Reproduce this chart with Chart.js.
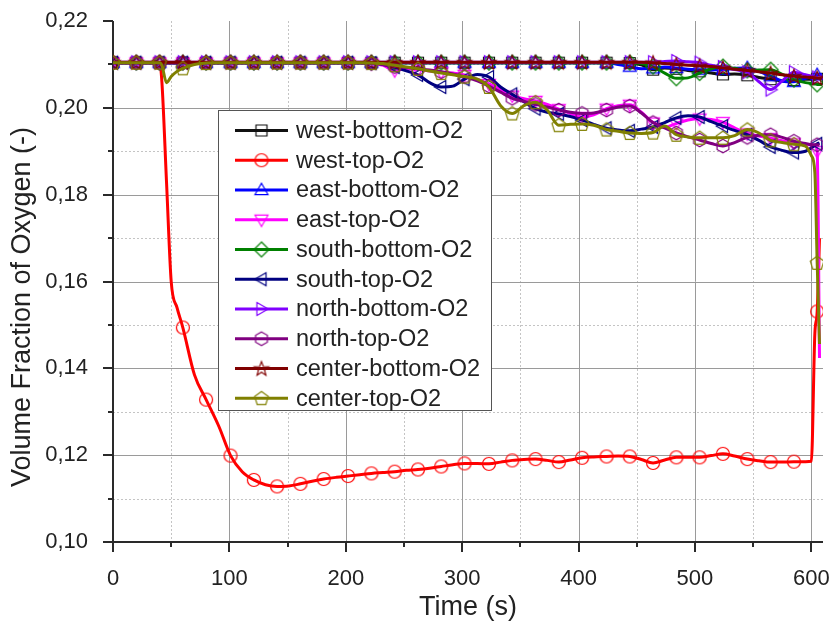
<!DOCTYPE html>
<html><head><meta charset="utf-8">
<script src="https://cdn.jsdelivr.net/npm/chart.js@4.4.1/dist/chart.umd.min.js"></script>
<style>html,body{margin:0;padding:0;background:#fff;}canvas{display:block;}</style>
</head><body>
<canvas id="c" width="833" height="632"></canvas>
<script>
// ---------------- data ----------------
const TIME = [0,10,20,30,40,42,46,50,55,60,70,80,91,101,111,121,131,141,151,161,171,181,192,202,212,222,232,242,252,262,272,282,292,302,313,323,333,343,353,363,373,383,393,403,413,424,434,444,454,464,474,484,494,504,514,524,534,545,555,565,575,585,595,600,603,605,607,609];
const MARKER_TIME = [0,20,40,60,80,101,121,141,161,181,202,222,242,262,282,302,323,343,363,383,403,424,444,464,484,504,524,545,565,585,605];
const X_TICKS = [0,100,200,300,400,500,600];
const Y_TICKS = [0.10,0.12,0.14,0.16,0.18,0.20,0.22];
const X_TITLE = 'Time (s)';
const Y_TITLE = 'Volume Fraction of Oxygen (-)';
const SERIES_NAMES = ['west-bottom-O2','west-top-O2','east-bottom-O2','east-top-O2','south-bottom-O2','south-top-O2','north-bottom-O2','north-top-O2','center-bottom-O2','center-top-O2'];

const WEST_BOTTOM = [0.2104,0.2104,0.2104,0.2104,0.2104,0.2104,0.2104,0.2104,0.2104,0.2104,0.2104,0.2104,0.2104,0.2104,0.2104,0.2104,0.2104,0.2104,0.2104,0.2104,0.2104,0.2104,0.2104,0.2104,0.2104,0.2104,0.2104,0.2104,0.2104,0.2104,0.2104,0.2104,0.2104,0.2104,0.2104,0.2104,0.2104,0.2104,0.2104,0.2104,0.2104,0.2104,0.2104,0.2104,0.2104,0.2104,0.2104,
  0.2103,0.2099,0.2088,0.2092,0.2090,0.2086,0.2084,0.2080,0.2077,0.2078,0.2075,0.2070,0.2066,0.2062,0.2064,0.2066,0.2066,0.2066,0.2067,0.2068,0.2068];
const WEST_TOP = [0.2104,0.2104,0.2104,0.2104,0.2104,0.2060,0.1828,0.1600,0.1540,0.1494,0.1385,0.1328,0.1266,0.1199,0.1162,0.1143,0.1132,0.1128,0.1129,0.1134,0.1140,0.1145,0.1149,0.1152,0.1155,
  0.1158,0.1160,0.1162,0.1165,0.1167,0.1170,0.1174,0.1178,0.1181,0.1181,0.1180,0.1184,0.1188,0.1190,0.1191,0.1188,0.1184,0.1189,0.1194,0.1196,0.1197,0.1198,0.1197,0.1190,0.1182,0.1189,0.1195,0.1195,0.1195,0.1199,0.1203,0.1198,0.1191,0.1187,0.1184,0.1184,0.1185,0.1185,0.1186,0.1480,0.1531,0.1700,null];
const EAST_BOTTOM = [0.2104,0.2104,0.2104,0.2104,0.2104,0.2104,0.2104,0.2104,0.2104,0.2104,0.2104,0.2104,0.2104,0.2104,0.2104,0.2104,0.2104,0.2104,0.2104,0.2104,0.2104,0.2104,0.2104,0.2104,0.2104,0.2104,0.2104,0.2104,0.2104,0.2104,0.2104,0.2104,0.2104,0.2104,0.2104,0.2104,0.2104,0.2104,0.2104,0.2104,0.2104,0.2104,0.2104,0.2104,0.2104,0.2104,
  0.2100,0.2095,0.2090,0.2091,0.2094,0.2092,0.2089,0.2088,0.2087,0.2088,0.2091,0.2092,0.2084,0.2073,0.2062,0.2060,0.2068,0.2072,0.2074,0.2076,0.2077,0.2077];
const EAST_TOP = [0.2104,0.2104,0.2104,0.2104,0.2104,0.2104,0.2104,0.2104,0.2104,0.2104,0.2104,0.2104,0.2104,0.2104,0.2104,0.2104,0.2104,0.2104,0.2104,0.2104,0.2104,0.2104,0.2104,0.2104,0.2104,
  0.2102,0.2098,0.2086,0.2090,0.2088,0.2085,0.2082,0.2080,0.2076,0.2066,0.2055,0.2042,0.2028,0.2021,0.2016,0.2008,0.1997,0.1987,0.1979,0.1984,0.1998,0.2005,0.2007,0.1990,0.1966,0.1955,0.1964,0.1972,0.1975,0.1973,0.1967,0.1954,0.1941,0.1935,0.1930,0.1924,0.1918,0.1915,0.1915,0.1914,0.1900,0.1424,null];
const SOUTH_BOTTOM = [0.2104,0.2104,0.2104,0.2104,0.2104,0.2104,0.2104,0.2104,0.2104,0.2104,0.2104,0.2104,0.2104,0.2104,0.2104,0.2104,0.2104,0.2104,0.2104,0.2104,0.2104,0.2104,0.2104,0.2104,0.2104,0.2104,0.2104,0.2104,0.2104,0.2104,0.2104,0.2104,0.2104,0.2104,0.2104,0.2104,0.2104,0.2104,0.2104,0.2104,0.2104,0.2104,0.2104,0.2104,0.2104,0.2104,0.2104,0.2104,
  0.2102,0.2095,0.2080,0.2068,0.2069,0.2080,0.2090,0.2095,0.2091,0.2086,0.2087,0.2088,0.2077,0.2065,0.2058,0.2056,0.2055,0.2054,0.2054,0.2054];
const SOUTH_TOP = [0.2104,0.2104,0.2104,0.2104,0.2104,0.2104,0.2104,0.2104,0.2104,0.2104,0.2104,0.2104,0.2104,0.2104,0.2104,0.2104,0.2104,0.2104,0.2104,0.2104,0.2104,0.2104,0.2104,0.2104,0.2104,
  0.2103,0.2100,0.2094,0.2085,0.2076,0.2058,0.2048,0.2050,0.2066,0.2077,0.2071,0.2048,0.2031,0.2014,0.1998,0.1990,0.1986,0.1980,0.1972,0.1962,0.1953,0.1949,0.1947,0.1951,0.1956,0.1966,0.1977,0.1982,0.1979,0.1968,0.1958,0.1948,0.1938,0.1925,0.1910,0.1902,0.1897,0.1900,0.1908,0.1913,0.1917,0.1919,null];
const NORTH_BOTTOM = [0.2105,0.2105,0.2105,0.2105,0.2105,0.2105,0.2105,0.2105,0.2105,0.2105,0.2105,0.2105,0.2105,0.2105,0.2105,0.2105,0.2105,0.2105,0.2105,0.2105,0.2105,0.2105,0.2105,0.2105,0.2105,0.2105,0.2105,0.2105,0.2105,0.2105,0.2105,0.2105,0.2105,0.2105,0.2105,0.2105,0.2105,0.2105,0.2105,0.2105,0.2105,0.2105,0.2105,0.2105,0.2105,0.2105,0.2105,0.2105,0.2105,0.2105,0.2107,0.2108,0.2106,0.2104,
  0.2098,0.2094,0.2088,0.2082,0.2060,0.2042,0.2062,0.2082,0.2076,0.2073,0.2071,0.2070,0.2069,0.2069];
const NORTH_TOP = [0.2104,0.2104,0.2104,0.2104,0.2104,0.2104,0.2104,0.2104,0.2104,0.2104,0.2104,0.2104,0.2104,0.2104,0.2104,0.2104,0.2104,0.2104,0.2104,0.2104,0.2104,0.2104,0.2104,0.2104,0.2104,
  0.2103,0.2100,0.2095,0.2093,0.2090,0.2087,0.2083,0.2078,0.2072,0.2062,0.2050,0.2036,0.2022,0.2015,0.2008,0.2002,0.1995,0.1990,0.1987,0.1988,0.1995,0.2002,0.2004,0.1988,0.1966,0.1954,0.1942,0.1933,0.1926,0.1918,0.1912,0.1920,0.1932,0.1937,0.1938,0.1932,0.1923,0.1918,0.1915,0.1915,0.1915,0.1914,null];
const CENTER_BOTTOM = [0.2105,0.2105,0.2105,0.2105,0.2105,0.2105,0.2105,0.2105,0.2105,0.2105,0.2105,0.2105,0.2105,0.2105,0.2105,0.2105,0.2105,0.2105,0.2105,0.2105,0.2105,0.2105,0.2105,0.2105,0.2105,0.2105,0.2105,0.2105,0.2105,0.2105,0.2105,0.2105,0.2105,0.2105,0.2105,0.2105,0.2105,0.2105,0.2105,0.2105,0.2105,0.2105,0.2105,0.2105,0.2105,0.2105,0.2105,0.2105,
  0.2105,0.2104,0.2102,0.2100,0.2098,0.2097,0.2095,0.2092,0.2089,0.2086,0.2083,0.2080,0.2076,0.2073,0.2071,0.2070,0.2069,0.2069,0.2068,0.2068];
const CENTER_TOP = [0.2104,0.2104,0.2104,0.2104,0.2104,0.2098,0.2058,0.2072,0.2084,0.2091,0.2100,0.2103,0.2104,0.2104,0.2104,0.2104,0.2104,0.2104,0.2104,0.2104,0.2104,0.2104,0.2104,0.2104,0.2104,
  0.2103,0.2102,0.2098,0.2094,0.2090,0.2085,0.2080,0.2076,0.2072,0.2066,0.2048,0.2005,0.1987,0.2005,0.2013,0.1995,0.1960,0.1962,0.1963,0.1960,0.1950,0.1946,0.1942,0.1941,0.1943,0.1958,0.1938,0.1933,0.1931,0.1931,0.1931,0.1936,0.1950,0.1942,0.1925,0.1920,0.1916,0.1912,0.1890,0.1851,0.1643,0.1456,null];

const SERIES_VALUES = [WEST_BOTTOM, WEST_TOP, EAST_BOTTOM, EAST_TOP, SOUTH_BOTTOM, SOUTH_TOP, NORTH_BOTTOM, NORTH_TOP, CENTER_BOTTOM, CENTER_TOP];

// ---------------- styles ----------------
const STYLE = [
  {color:'#111111', shape:'square'},
  {color:'#ff0000', shape:'circle'},
  {color:'#0000ff', shape:'triUp'},
  {color:'#ff00ff', shape:'triDown'},
  {color:'#008000', shape:'diamond'},
  {color:'#000080', shape:'triLeft'},
  {color:'#8000ff', shape:'triRight'},
  {color:'#800080', shape:'hexagon'},
  {color:'#800000', shape:'star'},
  {color:'#808000', shape:'pentagon'}
];
const FONT = "'Liberation Sans', Arial, Helvetica, sans-serif";

function polygon(ctx, cx, cy, r, n, startDeg){
  ctx.beginPath();
  for (let k=0;k<n;k++){
    const a = (startDeg + k*360/n) * Math.PI/180;
    const px = cx + r*Math.cos(a), py = cy + r*Math.sin(a);
    if (k===0) ctx.moveTo(px,py); else ctx.lineTo(px,py);
  }
  ctx.closePath();
}
function makeMarker(shape, color){
  const c = document.createElement('canvas');
  c.width = 20; c.height = 20;
  const g = c.getContext('2d');
  g.strokeStyle = color; g.lineWidth = 1.2; g.lineJoin='miter';
  const cx = 10, cy = 10;
  switch(shape){
    case 'square': g.beginPath(); g.rect(cx-5.5, cy-5.5, 11, 11); break;
    case 'circle': g.beginPath(); g.arc(cx, cy, 6.5, 0, Math.PI*2); break;
    case 'triUp': polygon(g, cx, cy+0.8, 7.5, 3, -90); break;
    case 'triDown': polygon(g, cx, cy-0.8, 7.5, 3, 90); break;
    case 'triLeft': polygon(g, cx+0.8, cy, 7.5, 3, 180); break;
    case 'triRight': polygon(g, cx-0.8, cy, 7.5, 3, 0); break;
    case 'diamond': polygon(g, cx, cy, 7.5, 4, -90); break;
    case 'hexagon': polygon(g, cx, cy, 6.8, 6, -90); break;
    case 'pentagon': polygon(g, cx, cy+0.5, 7.2, 5, -90); break;
    case 'star': {
      g.beginPath();
      for (let k=0;k<10;k++){
        const r = k%2===0 ? 7.5 : 3.2;
        const a = (-90 + k*36)*Math.PI/180;
        const px = cx + r*Math.cos(a), py = cy + 0.6 + r*Math.sin(a);
        if (k===0) g.moveTo(px,py); else g.lineTo(px,py);
      }
      g.closePath(); break;
    }
  }
  g.stroke();
  return c;
}
const MARKERS = STYLE.map(s => makeMarker(s.shape, s.color));

// ---------------- plugins ----------------
const framePlugin = {
  id: 'frame',
  beforeDatasetsDraw(chart){
    const {ctx, chartArea:a, scales:{x:xs, y:ys}} = chart;
    ctx.save();
    ctx.strokeStyle = '#c4c4c4'; ctx.lineWidth = 1; ctx.setLineDash([2,2]);
    for (let i=0;i<X_TICKS.length-1;i++){
      const px = Math.round(xs.getPixelForValue((X_TICKS[i]+X_TICKS[i+1])/2))+0.5;
      ctx.beginPath(); ctx.moveTo(px, a.top); ctx.lineTo(px, a.bottom); ctx.stroke();
    }
    for (let i=0;i<Y_TICKS.length-1;i++){
      const py = Math.round(ys.getPixelForValue((Y_TICKS[i]+Y_TICKS[i+1])/2))+0.5;
      ctx.beginPath(); ctx.moveTo(a.left, py); ctx.lineTo(a.right, py); ctx.stroke();
    }
    ctx.setLineDash([]); ctx.strokeStyle = '#9a9a9a';
    X_TICKS.slice(1).forEach(v => {
      const px = Math.round(xs.getPixelForValue(v))+0.5;
      ctx.beginPath(); ctx.moveTo(px, a.top); ctx.lineTo(px, a.bottom); ctx.stroke();
    });
    Y_TICKS.slice(1, -1).forEach(v => {
      const py = Math.round(ys.getPixelForValue(v))+0.5;
      ctx.beginPath(); ctx.moveTo(a.left, py); ctx.lineTo(a.right, py); ctx.stroke();
    });
    ctx.strokeStyle = '#2a2a2a'; ctx.lineWidth = 2;
    const x0 = Math.round(a.left), y0 = Math.round(a.bottom);
    ctx.beginPath(); ctx.moveTo(x0, Math.round(a.top)); ctx.lineTo(x0, y0+10); ctx.stroke();
    ctx.beginPath(); ctx.moveTo(x0-10, y0); ctx.lineTo(Math.round(a.right), y0); ctx.stroke();
    X_TICKS.forEach((v,i) => {
      const px = Math.round(xs.getPixelForValue(v));
      ctx.beginPath(); ctx.moveTo(px, y0); ctx.lineTo(px, y0+10); ctx.stroke();
      if (i < X_TICKS.length-1){
        const pm = Math.round(xs.getPixelForValue((v+X_TICKS[i+1])/2));
        ctx.beginPath(); ctx.moveTo(pm, y0); ctx.lineTo(pm, y0+5); ctx.stroke();
      }
    });
    Y_TICKS.forEach((v,i) => {
      const py = Math.round(ys.getPixelForValue(v));
      ctx.beginPath(); ctx.moveTo(x0-10, py); ctx.lineTo(x0, py); ctx.stroke();
      if (i < Y_TICKS.length-1){
        const pm = Math.round(ys.getPixelForValue((v+Y_TICKS[i+1])/2));
        ctx.beginPath(); ctx.moveTo(x0-5, pm); ctx.lineTo(x0, pm); ctx.stroke();
      }
    });
    ctx.restore();
  },
  afterDraw(chart){
    const {ctx, chartArea:a} = chart;
    ctx.save();
    ctx.fillStyle = '#222'; ctx.font = '27px ' + FONT;
    ctx.textAlign = 'center'; ctx.textBaseline = 'middle';
    ctx.fillText(X_TITLE, (a.left + a.right)/2, 608);
    ctx.translate(23, 307); ctx.rotate(-Math.PI/2);
    ctx.fillText(Y_TITLE, 0, 0);
    ctx.restore();

    ctx.save();
    const bx = 218.5, by = 110.5, bw = 273, bh = 300;
    ctx.fillStyle = '#ffffff'; ctx.fillRect(bx, by, bw, bh);
    ctx.strokeStyle = '#555'; ctx.lineWidth = 1; ctx.strokeRect(bx, by, bw, bh);
    ctx.font = '23.5px ' + FONT; ctx.textAlign = 'left'; ctx.textBaseline = 'middle';
    chart.data.datasets.forEach((ds, i) => {
      const cy = 130.5 + i*29.75;
      ctx.strokeStyle = ds.borderColor; ctx.lineWidth = 3;
      ctx.beginPath(); ctx.moveTo(235, cy); ctx.lineTo(288, cy); ctx.stroke();
      const m = MARKERS[i];
      ctx.drawImage(m, 261.5 - m.width/2, cy - m.height/2);
      ctx.fillStyle = '#222';
      ctx.fillText(ds.label, 296, cy + 1);
    });
    ctx.restore();
  }
};

// ---------------- chart ----------------
Chart.defaults.font.family = FONT;
new Chart(document.getElementById('c'), {
  type: 'line',
  data: {
    datasets: SERIES_NAMES.map((name, i) => ({
      label: name,
      data: TIME.map((t, k) => ({x: t, y: SERIES_VALUES[i][k]})),
      borderColor: STYLE[i].color,
      backgroundColor: 'transparent',
      borderWidth: 3,
      pointStyle: MARKERS[i],
      pointRadius: c => MARKER_TIME.includes(TIME[c.dataIndex]) ? 7 : 0,
      pointHoverRadius: 0,
      cubicInterpolationMode: 'monotone',
      fill: false,
      spanGaps: false,
      order: SERIES_NAMES.length - 1 - i
    }))
  },
  options: {
    responsive: false,
    animation: false,
    devicePixelRatio: 1,
    events: [],
    layout: {padding: {top: 21, right: 9, left: 0, bottom: 0}},
    plugins: {legend: {display: false}, tooltip: {enabled: false}},
    scales: {
      x: {
        type: 'linear', min: 0, max: 610,
        grid: {display: false}, border: {display: false},
        ticks: {includeBounds: false, autoSkip: false, maxRotation: 0, padding: 16,
                color: '#222', font: {size: 22}, callback: v => String(v)},
        afterBuildTicks: s => { s.ticks = X_TICKS.map(v => ({value: v})); },
        afterFit: s => { s.height = 90; s.paddingLeft = 0; s.paddingRight = 0; s.paddingTop = 0; s.paddingBottom = 0; }
      },
      y: {
        type: 'linear', min: 0.10, max: 0.22,
        grid: {display: false}, border: {display: false},
        ticks: {includeBounds: false, autoSkip: false, padding: 17,
                color: '#222', font: {size: 22}, callback: v => v.toFixed(2).replace('.', ',')},
        afterBuildTicks: s => { s.ticks = Y_TICKS.map(v => ({value: v})); },
        afterFit: s => { s.width = 113; s.paddingLeft = 0; s.paddingRight = 0; s.paddingTop = 0; s.paddingBottom = 0; }
      }
    }
  },
  plugins: [framePlugin]
});
</script>
</body></html>
